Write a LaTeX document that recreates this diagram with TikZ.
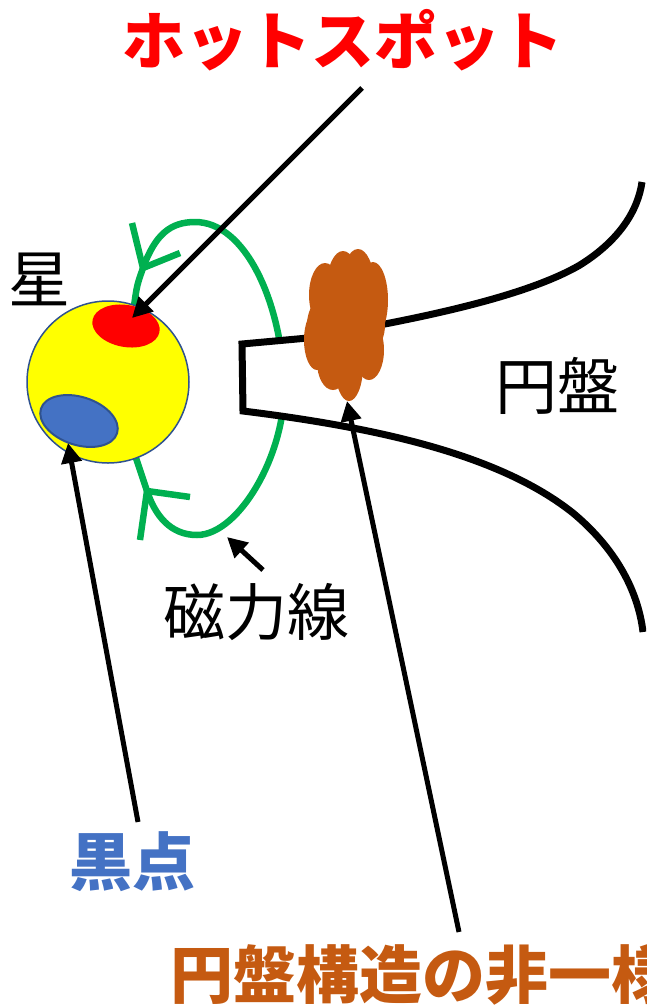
\documentclass[tikz,border=0pt]{standalone}
\usepackage{fontspec}
\newfontfamily\jp{Noto Sans CJK JP}
\usetikzlibrary{arrows.meta,shapes.geometric}
\definecolor{hotred}{HTML}{FF0000}
\definecolor{spotblue}{HTML}{4472C4}
\definecolor{rim}{HTML}{2F528F}
\definecolor{clump}{HTML}{C55A11}
\definecolor{fieldgreen}{HTML}{00B050}
\definecolor{starfill}{HTML}{FFFF00}

\begin{document}
\begin{tikzpicture}[x=1pt, y=-1pt,
    lbl/.style = {inner sep=0pt, font=\jp\fontsize{62}{62}\selectfont},
    bold/.style = {inner sep=0pt, font=\jp\bfseries\fontsize{63}{63}\selectfont},
    ptr/.style = {line width=5pt, -{Triangle[length=20pt,width=20pt]}},
    field/.style = {draw=fieldgreen, line width=6.5pt},
    disk/.style = {draw, line width=7pt, line join=miter}]
        \useasboundingbox (0,0) rectangle (646,1007);
        \clip (0,0) rectangle (646,1007);
        % field line and its two arrow marks
        \draw[field] (134,306) .. controls (137,285) .. (143,268)
            .. controls (155,235) and (170,222) .. (195,222)
            .. controls (245,222) and (280,300) .. (284,380)
            .. controls (288,450) and (240,535) .. (197,535)
            .. controls (170,535) and (155,515) .. (147,491)
            .. controls (141,475) .. (136,458);
        \draw[field] (132,223) -- (143,268) -- (180,253);
        \draw[field] (140,540) -- (147,491) -- (190,497);
        % disk
        \draw[disk, preaction={fill=white}] (642,182)
            .. controls (638,210) and (620,240) .. (580,265)
            .. controls (520,300) and (400,322) .. (308,338)
            -- (242,344) -- (243,411)
            .. controls (380,428) and (500,455) .. (573,513)
            .. controls (615,548) and (638,590) .. (643,632);
        % star
        \node[circle, draw=rim, fill=starfill, line width=1.5pt, minimum size=162pt, inner sep=0pt] (star) at (108,382) {};
        \node[ellipse, fill=hotred, minimum width=68pt, minimum height=42pt, rotate=-10] (hot) at (126,326) {};
        \node[ellipse, draw=rim, fill=spotblue, line width=2pt, minimum width=80pt, minimum height=48pt, rotate=-18] (spot) at (79,421) {};
        % clump on the inner edge
        \foreach \cx/\cy/\rx/\ry in {325/295/16/32, 343/285/16/34, 358/284/16/35, 373/300/15/38,
                317/340/13/30, 333/362/16/28, 349/366/14/35, 369/350/15/30, 346/325/39/40}
            \fill[clump] (\cx,\cy) ellipse [x radius=\rx, y radius=\ry];
        % labels
        \node[bold, text=hotred] (hotlbl) at (343,40) {ホットスポット};
        \node[lbl] (starlbl) at (40,279) {星};
        \node[lbl] (disklbl) at (557,386) {円盤};
        \node[lbl] (fieldlbl) at (256,612) {磁力線};
        \node[bold, text=spotblue] (spotlbl) at (132,862) {黒点};
        \node[bold, text=clump, anchor=base west] (clumplbl) at (170,998) {円盤構造の非一様};
        % pointers
        \coordinate (hottail) at (362,88);
        \coordinate (hottip) at (132,318);
        \coordinate (spottail) at (138,822);
        \coordinate (spottip) at (68,443);
        \coordinate (fieldtail) at (263,570);
        \coordinate (fieldtip) at (227,537);
        \coordinate (clumptail) at (459,932);
        \coordinate (clumptip) at (347,401);
        \draw[ptr] (hottail) -- (hottip);
        \draw[ptr] (spottail) -- (spottip);
        \draw[ptr] (fieldtail) -- (fieldtip);
        \draw[ptr] (clumptail) -- (clumptip);
    \end{tikzpicture}
\end{document}
